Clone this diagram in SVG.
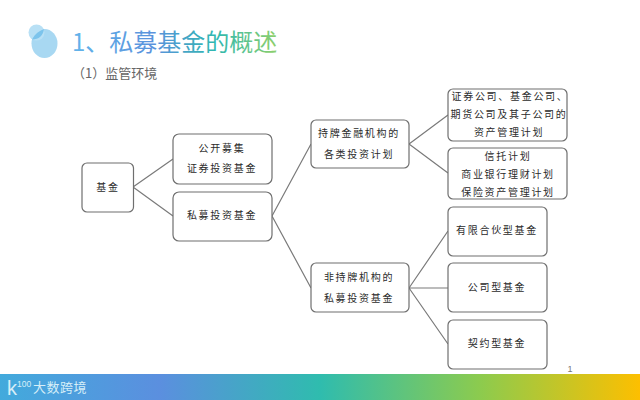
<svg xmlns="http://www.w3.org/2000/svg" width="640" height="400" viewBox="0 0 640 400">
<defs>
<linearGradient id="bar" x1="0" y1="0" x2="1" y2="0">
<stop offset="0" stop-color="#42aadc"/><stop offset="0.25" stop-color="#5b8fdf"/><stop offset="0.5" stop-color="#2fbcae"/><stop offset="0.75" stop-color="#8ccb4e"/><stop offset="1" stop-color="#fdbf00"/>
</linearGradient>
<linearGradient id="title" gradientUnits="userSpaceOnUse" x1="72" y1="0" x2="278" y2="0">
<stop offset="0" stop-color="#62b4ea"/><stop offset="0.4" stop-color="#5a92dc"/><stop offset="0.7" stop-color="#2fb8b0"/><stop offset="1" stop-color="#8fd06a"/>
</linearGradient>
<style>
.box{fill:#fff;stroke:#6f6f6f;stroke-width:1.2}
.t{font-family:"Noto Sans CJK SC","Noto Sans",sans-serif;font-size:10px;letter-spacing:1.7px;fill:#2b2b2b;text-anchor:middle}
.c{fill:none;stroke:#7a7a7a;stroke-width:1.2}
</style>
</defs>
<rect width="640" height="400" fill="#fff"/>
<g id="logo-dots">
<ellipse cx="44.500" cy="43.500" rx="13" ry="14.500" fill="#a8d8f2"/>
<circle cx="36.500" cy="32.500" r="8" fill="#b8e0f5"/>
<path d="M32 39.500 C35 33.500 40 30.500 44 29 C43 35.500 39 39.500 32 39.500Z" fill="#7cc4ec"/>
</g>
<text id="title-text" x="72" y="51" font-family="Noto Sans CJK SC, sans-serif" font-size="24" fill="url(#title)">1、私募基金的概述</text>
<text id="subtitle" x="72" y="78" font-family="Noto Sans CJK SC, sans-serif" font-size="13" fill="#666">（1）监管环境</text>
<g id="connectors">
<path class="c" d="M133 187L173 159M133 187L173 216M272 216L311 144M272 216L311 288M409 144L448 115M409 144L448 173M409 288L448 231M409 288H448M409 288L448 344"/>
</g>
<g id="n-jijin"><rect class="box" x="82" y="163" width="51.500" height="49" rx="5"/><text class="t" x="108" y="191">基金</text></g>
<g id="n-gongkai"><rect class="box" x="173" y="134" width="99" height="50" rx="6"/><text class="t" x="222" y="152">公开募集</text><text class="t" x="222" y="172">证券投资基金</text></g>
<g id="n-simu"><rect class="box" x="173" y="192" width="99" height="49" rx="6"/><text class="t" x="222" y="219">私募投资基金</text></g>
<g id="n-chipai"><rect class="box" x="311" y="120" width="98" height="48" rx="5"/><text class="t" x="359" y="137">持牌金融机构的</text><text class="t" x="359" y="158">各类投资计划</text></g>
<g id="n-feichipai"><rect class="box" x="311" y="263" width="98" height="49" rx="5"/><text class="t" x="359" y="281">非持牌机构的</text><text class="t" x="359" y="302">私募投资基金</text></g>
<g id="n-zhengquan"><rect class="box" x="448" y="89" width="119" height="52" rx="5"/><text class="t" x="510" y="100">证券公司、基金公司、</text><text class="t" x="509" y="118">期货公司及其子公司的</text><text class="t" x="509" y="136">资产管理计划</text></g>
<g id="n-xintuo"><rect class="box" x="448" y="148" width="119" height="51" rx="5"/><text class="t" x="508" y="160">信托计划</text><text class="t" x="508" y="178">商业银行理财计划</text><text class="t" x="508" y="196">保险资产管理计划</text></g>
<g id="n-youxian"><rect class="box" x="448" y="207" width="99" height="49" rx="5"/><text class="t" x="497" y="234">有限合伙型基金</text></g>
<g id="n-gongsi"><rect class="box" x="448" y="263" width="99" height="49" rx="5"/><text class="t" x="497" y="291">公司型基金</text></g>
<g id="n-qiyue"><rect class="box" x="448" y="320" width="99" height="49" rx="5"/><text class="t" x="497" y="347">契约型基金</text></g>
<text id="page" x="570" y="372" font-family="Liberation Sans, sans-serif" font-size="9" fill="#777" text-anchor="middle">1</text>
<g id="footer">
<rect x="0" y="374" width="640" height="26" fill="url(#bar)"/>
<text x="7" y="395" font-family="Liberation Sans, sans-serif" font-size="20" fill="#d6eef8">k</text>
<text x="17" y="387" font-family="Liberation Sans, sans-serif" font-size="8.500" fill="#d6eef8">100</text>
<text x="33" y="392" font-family="Noto Sans CJK SC, sans-serif" font-size="13" letter-spacing="0.500" fill="#d6eef8">大数跨境</text>
</g>
</svg>
